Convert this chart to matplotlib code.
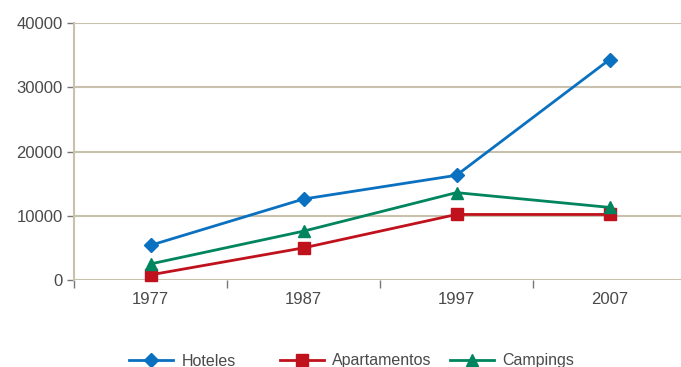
import matplotlib
matplotlib.use("Agg")
import matplotlib.pyplot as plt
from matplotlib.lines import Line2D

plt.rcParams['font.family'] = ['Liberation Sans', 'DejaVu Sans']

years = ["1977", "1987", "1997", "2007"]
hoteles = [5400, 12600, 16300, 34300]
apartamentos = [800, 5000, 10200, 10200]
campings = [2500, 7600, 13600, 11300]

y_ticks = [0, 10000, 20000, 30000, 40000]

c_hot = "#0a70c0"
c_apt = "#c0121c"
c_cam = "#00855e"
c_grid = "#c9c0ae"
c_text = "#4a4a4a"

fig = plt.figure(figsize=(6.81, 3.67), dpi=100)
ax = fig.add_axes([74 / 681, (367 - 280) / 367, (686 - 74) / 681, (280 - 23) / 367])

x = list(range(len(years)))
ax.plot(x, hoteles, color=c_hot, lw=2, marker="D", ms=7, zorder=3, clip_on=False)
ax.plot(x, apartamentos, color=c_apt, lw=2, marker="s", ms=8, zorder=3, clip_on=False)
ax.plot(x, campings, color=c_cam, lw=2, marker="^", ms=9, zorder=3, clip_on=False)

ax.set_xlim(-0.5, 3.5)
ax.set_ylim(0, 40000)
ax.set_yticks(y_ticks)
ax.set_yticklabels([str(v) for v in y_ticks])
ax.set_xticks(x)
ax.set_xticklabels(years)
ax.set_xticks([-0.5, 0.5, 1.5, 2.5], minor=True)

ax.grid(axis="y", color=c_grid, lw=1.5, zorder=1)
for s in ["top", "right", "bottom"]:
    ax.spines[s].set_visible(False)
ax.spines["left"].set_color(c_grid)
ax.spines["left"].set_linewidth(1.5)

ax.tick_params(axis="y", length=5, width=1, color="#777777", labelcolor=c_text,
               labelsize=12, pad=3)
ax.tick_params(axis="x", which="major", length=0, labelcolor=c_text, labelsize=12, pad=9)
ax.tick_params(axis="x", which="minor", length=6, width=1, color="#777777")

entries = [
    ("Hoteles", c_hot, "D", 7, 131),
    ("Apartamentos", c_apt, "s", 8, 282),
    ("Campings", c_cam, "^", 9, 452),
]
for label, col, mk, ms, px in entries:
    h = Line2D([], [], color=col, lw=2, marker=mk, ms=ms)
    leg = fig.legend(handles=[h], labels=[label], loc="center left",
                     bbox_to_anchor=((px - 8) / 681, (367 - 361) / 367),
                     frameon=False, fontsize=11.5, handlelength=2.7,
                     handletextpad=0.55, borderaxespad=0)
    for t in leg.get_texts():
        t.set_color(c_text)

fig.savefig("out.png", dpi=100)
